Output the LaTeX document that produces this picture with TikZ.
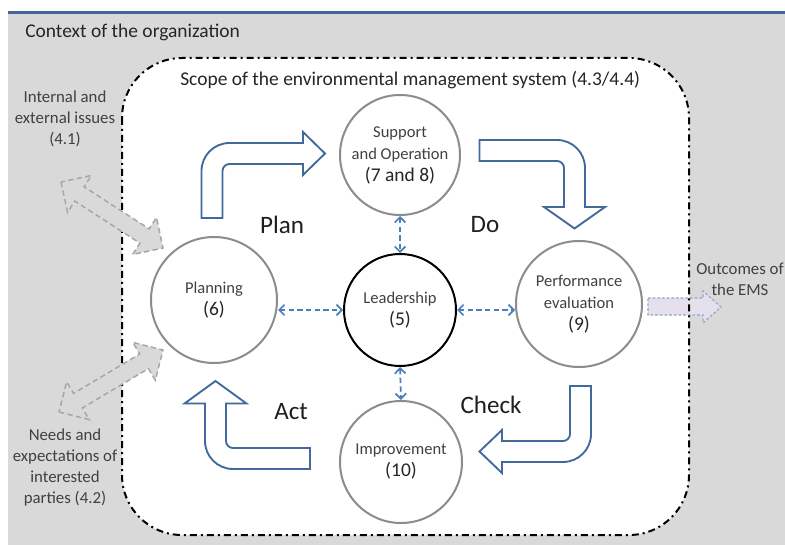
\documentclass[tikz,border=0pt]{standalone}
\usepackage{fontspec}
\setmainfont{Carlito}
\usetikzlibrary{arrows.meta,calc}
\definecolor{bgray}{HTML}{D9D9D9}
\definecolor{topblue}{HTML}{44669A}
\definecolor{arrblue}{HTML}{41699C}
\definecolor{dblue}{HTML}{4A7EBF}
\definecolor{cgray}{HTML}{8C8C8C}
\definecolor{garrow}{HTML}{A6A6A6}
\definecolor{lav}{HTML}{E6E0EC}
\definecolor{lavline}{HTML}{8FA3C8}
\definecolor{txtgray}{HTML}{404040}
\definecolor{txtdark}{HTML}{262626}
\tikzset{
  circ/.style={circle, draw=cgray, line width=1.5pt, inner sep=0pt, align=center,
    text=txtgray, font=\fontsize{12.4pt}{16.5pt}\selectfont},
  bent/.style={draw=arrblue, line width=1.4pt, fill=white, line join=miter},
  link/.style={draw=dblue, line width=1.3pt, dash pattern=on 4pt off 2.5pt,
    {Straight Barb[length=4pt,width=8pt]}-{Straight Barb[length=4pt,width=8pt]}},
  pdca/.style={font=\fontsize{18.8pt}{22pt}\selectfont, text=black!88},
  ctx/.style={font=\fontsize{12.6pt}{15.75pt}\selectfont, text=txtgray, align=center, inner sep=0pt},
  big/.style={font=\fontsize{14.6pt}{17pt}\selectfont, text=txtdark, inner sep=0pt},
  garr/.style={fill=bgray, draw=garrow, line width=1.1pt, dash pattern=on 4pt off 2.5pt},
  outarr/.style={fill=lav, draw=lavline, line width=0.8pt, dash pattern=on 2pt off 1.5pt},
}
\newcommand{\numtxt}[1]{{\fontsize{14.6pt}{16.5pt}\selectfont\color{txtdark}#1}}
\begin{document}
\begin{tikzpicture}[x=0.75pt,y=-0.75pt]
\useasboundingbox (0,0) rectangle (785,545);
% background
\fill[bgray] (8,13) rectangle (785,545);
\draw[topblue, line width=1.6pt] (8,12.5) -- (785,12.5);
% scope area
\fill[white, rounded corners=45pt] (122,58) rectangle (689,535);
% outcome arrow
\draw[outarr] (648,298) -- (703,298) -- (703,291) -- (721,307) -- (703,323) -- (703,315) -- (648,315) -- cycle;
\draw[line width=1.5pt, dash pattern=on 5.25pt off 3pt on 1.5pt off 3pt, rounded corners=45pt] (122,58) rectangle (689,535);
% gray double arrows
\begin{scope}[shift={(112,215)}, rotate=-32.9]
\draw[garr] (-60.75,0) -- (-38.75,22) -- (-38.75,8.5) -- (38.75,8.5) -- (38.75,22) -- (60.75,0) -- (38.75,-22) -- (38.75,-8.5) -- (-38.75,-8.5) -- (-38.75,-22) -- cycle;
\end{scope}
\begin{scope}[shift={(111,381)}, rotate=30.8]
\draw[garr] (-60.5,0) -- (-38.5,22) -- (-38.5,8.5) -- (38.5,8.5) -- (38.5,22) -- (60.5,0) -- (38.5,-22) -- (38.5,-8.5) -- (-38.5,-8.5) -- (-38.5,-22) -- cycle;
\end{scope}
% texts
\node[big, anchor=base west] (ctxt) at (25,37.5) {Context of the organization};
\node[big, anchor=base west] (scope) at (180,86) {Scope of the environmental management system (4.3/4.4)};
\node[ctx] (iss) at (65,119) {Internal and\\external issues\\(4.1)};
\node[ctx] (needs) at (65,468) {Needs and\\expectations of\\interested\\parties (4.2)};
\node[ctx] (outc) at (740,279) {Outcomes of\\the EMS};
% circles
\node[circ, minimum size=90pt] (sup) at (400,155) {Support\\and Operation\\\numtxt{(7 and 8)}};
\node[circ, minimum size=84pt, draw=black] (lead) at (400,310) {Leadership\\\numtxt{(5)}};
\node[circ, minimum size=94.5pt] (plan) at (214,300) {Planning\\\numtxt{(6)}};
\node[circ, minimum size=94.5pt] (perf) at (579,304) {Performance\\evaluation\\\numtxt{(9)}};
\node[circ, minimum size=91.5pt] (imp) at (401,462) {Improvement\\\numtxt{(10)}};
% dashed links
\draw[link] (plan.east |- lead.west) -- (lead.west);
\draw[link] (lead.east) -- (perf.west |- lead.east);
\draw[link] (sup.south) -- (lead.north);
\draw[link] (lead.south) -- (imp.north);
% bent arrows
\draw[bent] (201.5,218) -- (201.5,171) .. controls (201.5,155.5) and (214,143) .. (229.5,143) -- (303,143) -- (303,132) -- (325,153.5) -- (303,175) -- (303,164) -- (229.5,164) .. controls (225.6,164) and (222.5,167.1) .. (222.5,171) -- (222.5,218) -- cycle;
\draw[bent] (479.5,140) -- (557,140) .. controls (572.5,140) and (585,152.5) .. (585,168) -- (585,207) -- (605,207) -- (574.5,228.5) -- (544,207) -- (564,207) -- (564,168) .. controls (564,164.1) and (560.9,161) .. (557,161) -- (479.5,161) -- cycle;
\draw[bent] (570,386) -- (591,386) -- (591,434) .. controls (591,449.5) and (578.5,462) .. (563,462) -- (502,462) -- (502,473) -- (479.5,451.5) -- (502,430) -- (502,441) -- (563,441) .. controls (566.9,441) and (570,437.9) .. (570,434) -- cycle;
\draw[bent] (310,448) -- (310,469) -- (233,469) .. controls (217.5,469) and (205,456.5) .. (205,441) -- (205,403.5) -- (184.5,403.5) -- (215.5,381) -- (246.5,403.5) -- (226,403.5) -- (226,441) .. controls (226,444.9) and (229.1,448) .. (233,448) -- cycle;
% PDCA labels
\node[pdca] (lplan) at (282,225) {Plan};
\node[pdca] (ldo) at (485,225) {Do};
\node[pdca] (lact) at (291,412) {Act};
\node[pdca] (lcheck) at (491,405) {Check};
\end{tikzpicture}
\end{document}
